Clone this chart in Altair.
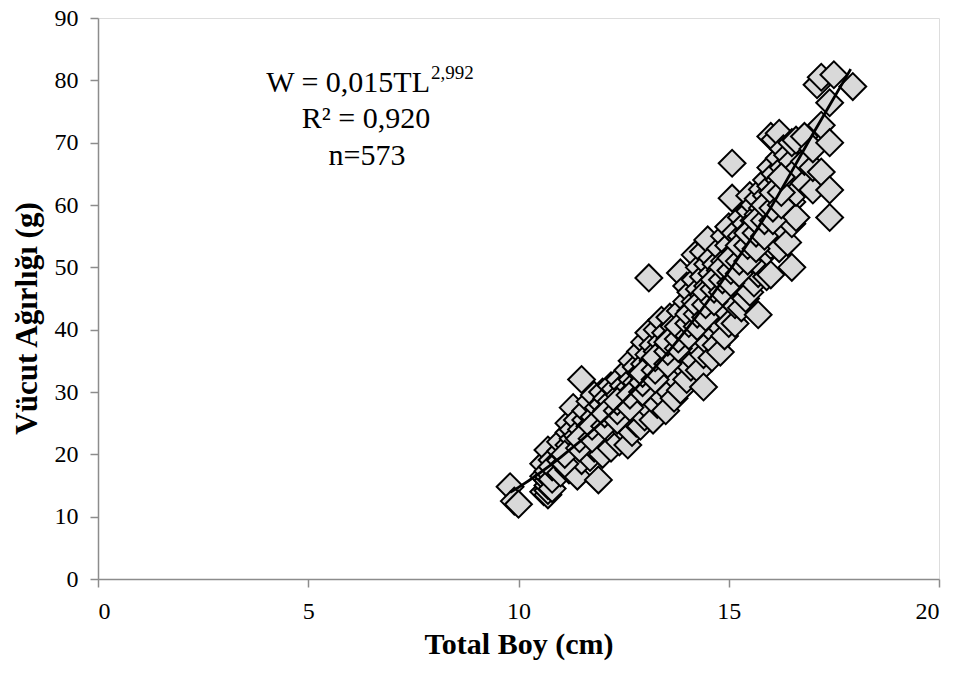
import altair as alt
import pandas as pd

# Scatter data (Total Boy, cm) grouped by length, with the weights read at each length (g)
boy_degerleri = [
    9.8, 9.9, 10.0, 10.6, 10.7, 10.8, 11.0, 11.2, 11.3, 11.4, 11.5, 11.6, 11.7, 11.8, 11.9,
    12.0, 12.1, 12.2, 12.3, 12.4, 12.5, 12.6, 12.7, 12.8, 12.9, 13.0, 13.1, 13.2, 13.3, 13.4,
    13.5, 13.6, 13.7, 13.85, 14.0, 14.1, 14.2, 14.3, 14.4, 14.5, 14.6, 14.7, 14.8, 14.9, 15.0,
    15.08, 15.15, 15.3, 15.4, 15.5, 15.6, 15.7, 15.8, 15.9, 16.0, 16.1, 16.2, 16.3, 16.4, 16.5,
    16.6, 16.8, 17.0, 17.1, 17.2, 17.4, 17.5, 17.95,
]
agirlik_gruplari = [
    [14.8], [12.5], [12.0], [14.0, 16.5, 18.5],
    [13.5, 14.2, 15.0, 15.8, 16.5, 17.3, 20.7], [14.5, 16.0, 19.1, 18.0],
    [17.0, 19.0, 20.5, 22.0], [17.5, 19.5, 21.5, 23.5, 25.0], [27.5, 18.5, 22.5, 24.0],
    [16.5, 20.0, 23.0, 25.5], [19.0, 21.5, 24.0, 32.0], [20.5, 22.5, 25.5, 27.0],
    [19.5, 23.0, 24.5, 28.5], [21.0, 24.0, 26.0, 29.5], [15.9, 22.5, 25.5, 27.5],
    [20.0, 23.5, 26.0, 28.0, 30.0], [22.0, 25.0, 27.0, 29.0], [21.0, 24.5, 26.5, 28.5, 31.0],
    [23.0, 26.0, 28.0, 30.5], [22.0, 25.5, 27.5, 29.5, 32.0], [24.0, 27.0, 29.0, 31.0],
    [21.5, 25.5, 28.5, 30.5, 33.5], [23.5, 27.5, 30.0, 32.0, 35.0], [25.0, 29.0, 31.5, 34.0],
    [24.5, 28.0, 30.5, 33.0, 36.5], [26.0, 29.5, 32.0, 34.5, 38.0],
    [48.3, 27.5, 31.0, 33.5, 36.0, 39.5], [25.5, 29.0, 32.5, 35.0, 37.5],
    [28.0, 31.0, 34.0, 36.5, 40.0], [29.5, 33.0, 35.5, 38.0, 41.5],
    [27.0, 31.5, 34.5, 37.0, 39.5], [30.0, 33.5, 36.0, 38.5, 42.0],
    [29.0, 32.5, 35.5, 38.0, 40.5], [30.3, 34.5, 37.5, 40.0, 43.0, 49.1],
    [32.0, 36.0, 39.0, 41.5, 44.5, 47.0], [34.0, 37.5, 40.5, 43.0, 46.0],
    [35.0, 39.0, 42.0, 44.5, 48.0, 52.0], [33.5, 37.0, 41.0, 43.5, 46.5, 50.0],
    [30.8, 36.0, 39.5, 42.5, 45.5, 48.5, 52.5], [38.0, 41.5, 44.0, 47.0, 50.5, 54.4],
    [35.5, 40.0, 43.5, 46.0, 49.0, 51.5], [37.5, 42.0, 45.0, 48.0, 50.5],
    [36.4, 40.5, 44.0, 47.0, 49.5, 53.0], [39.0, 43.0, 46.0, 48.5, 51.0, 55.0],
    [41.0, 45.0, 48.0, 50.5, 53.5, 56.5], [61.1, 66.7],
    [41.0, 44.0, 47.5, 50.0, 52.5, 55.5], [43.5, 46.5, 49.5, 52.0, 55.0, 58.0],
    [45.0, 48.5, 51.5, 54.0, 57.0], [46.0, 50.0, 53.0, 56.0, 59.0, 61.5],
    [47.5, 51.5, 54.5, 57.5, 60.0], [42.4, 49.0, 52.5, 55.5, 58.5, 61.0],
    [50.0, 54.0, 57.0, 59.5, 62.5], [48.5, 52.5, 56.0, 58.5, 61.5, 64.0],
    [48.8, 53.5, 57.0, 60.0, 63.0, 66.0, 71.0], [55.0, 58.5, 62.0, 65.0, 70.5],
    [53.0, 57.5, 60.5, 64.0, 67.5, 71.5], [56.0, 59.0, 62.5, 66.0, 69.0],
    [54.0, 58.7, 61.5, 64.5, 68.0], [50.0, 57.0, 60.5, 63.5, 67.0, 70.0],
    [58.0, 62.0, 65.5, 70.4], [63.5, 67.0, 71.0], [62.4, 66.0, 69.0], [79.3],
    [65.3, 72.8, 80.5], [58.0, 62.4, 70.0, 76.4], [80.9], [79.0],
]

# Extra fish in the dense core of the band (lengths and weights read near the curve)
ek_boy = [
    11.1, 11.45, 11.75, 12.05, 12.35, 12.65, 12.95, 13.25, 13.55, 13.8, 14.05,
    14.25, 14.45, 14.65, 14.85, 15.05, 15.25, 15.45, 15.65, 15.85, 16.05, 16.25,
]
ek_agirlik = [
    [18.5, 20.0], [21.0, 22.5], [22.5, 24.5], [24.5, 26.5], [25.5, 27.0, 28.5],
    [27.5, 29.5], [30.0, 31.5, 33.0], [32.0, 33.5, 35.5], [34.5, 36.5, 38.0],
    [37.0, 38.5, 40.5], [39.0, 41.0, 42.5], [40.5, 42.5, 44.0], [42.0, 44.0, 46.0],
    [44.5, 46.5, 48.0], [46.0, 48.0, 50.0], [47.5, 49.5, 51.5], [49.0, 51.0, 53.5],
    [51.0, 53.5, 55.5], [53.0, 55.5, 57.5], [55.0, 57.5, 60.0], [57.5, 59.5, 62.0],
    [60.0, 62.0, 64.5],
]

# Fitted power curve W = 0,015 TL^2,992
egri_boy = [9.8, 10.0, 11.0, 12.0, 13.0, 14.0, 15.0, 16.0, 17.0, 17.9]
egri_agirlik = [13.9, 14.7, 19.5, 25.3, 32.1, 40.1, 49.3, 59.6, 71.4, 81.8]

# Annotation text lines
denklem = "W = 0,015TL"
us = "2,992"
r_kare = "R² = 0,920"
n_metin = "n=573"

rows = []
for b, grp in zip(boy_degerleri, agirlik_gruplari):
    for w in grp:
        rows.append({"boy": b, "agirlik": w})
for b, grp in zip(ek_boy, ek_agirlik):
    for w in grp:
        rows.append({"boy": b, "agirlik": w})
df = pd.DataFrame(rows)
curve = pd.DataFrame({"boy": egri_boy, "agirlik": egri_agirlik})

FONT = "Liberation Serif"
xscale = alt.Scale(domain=[0, 20], nice=False, zero=False)
yscale = alt.Scale(domain=[0, 90], nice=False)

xaxis = alt.Axis(
    title="Total Boy (cm)", values=[0, 5, 10, 15, 20], grid=False,
    domainColor="#8c8c8c", domainWidth=1.5, tickColor="#8c8c8c", tickWidth=1.5, tickSize=8,
    labelFont=FONT, labelFontSize=24, labelColor="black", labelPadding=12,
    titleFont=FONT, titleFontSize=30, titleFontWeight="bold", titleColor="black",
    titleBaseline="alphabetic", titleY=74,
)
yaxis = alt.Axis(
    title="Vücut Ağırlığı (g)", values=list(range(0, 91, 10)), grid=False,
    domainColor="#8c8c8c", domainWidth=1.5, tickColor="#8c8c8c", tickWidth=1.5, tickSize=8,
    labelFont=FONT, labelFontSize=24, labelColor="black", labelPadding=12,
    titleFont=FONT, titleFontSize=31, titleFontWeight="bold", titleColor="black",
    titleAngle=-90, titleAlign="center", titleBaseline="alphabetic", titleX=-62, titleY=300,
)

points = alt.Chart(df).mark_point(
    shape="diamond", filled=True, fill="#d9d9d9", stroke="black", strokeWidth=2,
    size=720, opacity=1,
).encode(
    x=alt.X("boy:Q", scale=xscale, axis=xaxis),
    y=alt.Y("agirlik:Q", scale=yscale, axis=yaxis),
)

line = alt.Chart(curve).mark_line(color="black", strokeWidth=2.8, interpolate="monotone").encode(
    x=alt.X("boy:Q", scale=xscale),
    y=alt.Y("agirlik:Q", scale=yscale),
)

def label(txt, x, y, size=30, align="center"):
    return alt.Chart(pd.DataFrame({"t": [txt]})).mark_text(
        font=FONT, fontSize=size, fontWeight="normal", color="black",
        align=align, baseline="alphabetic",
    ).encode(x=alt.value(x), y=alt.value(y), text="t:N")

ann = (
    label(denklem, 332, 74, align="right")
    + label(us, 333, 61, size=19, align="left")
    + label(r_kare, 268, 110)
    + label(n_metin, 269, 147)
)

chart = alt.layer(points, line, ann).properties(
    width=841, height=561,
    autosize=alt.AutoSizeParams(type="none"),
    padding={"left": 90, "top": 10, "right": 12, "bottom": 88},
).configure_view(stroke=None).configure(background="white")

chart.save("out.html", embed_options={"renderer": "svg", "actions": False})
